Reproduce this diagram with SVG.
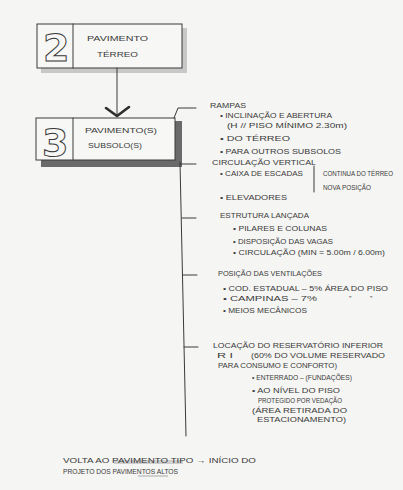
<svg xmlns="http://www.w3.org/2000/svg" width="403" height="490" viewBox="0 0 403 490">
<style>
.t{font-family:"Liberation Sans",Arial,sans-serif;font-size:7px;fill:#3a3a3a;}
.b{font-family:"Liberation Sans",Arial,sans-serif;font-size:7.5px;fill:#3a3a3a;}
.ln{stroke:#3a3a3a;stroke-width:1;fill:none;stroke-linecap:round;}
.box{fill:#f7f7f5;stroke:#3a3a3a;stroke-width:1;}
.num{font-family:"DejaVu Sans",sans-serif;font-weight:bold;font-size:38px;fill:#f7f7f5;stroke:#3a3a3a;stroke-width:1;}
</style>
<rect x="0" y="0" width="403" height="490" fill="#f5f5f3"/>

<g id="node-2">
<rect x="41" y="67" width="145" height="6" fill="#c8c8c8"/>
<rect x="182" y="28" width="5" height="45" fill="#c8c8c8"/>
<rect class="box" x="37" y="24" width="145" height="44"/>
<line class="ln" x1="73" y1="24" x2="73" y2="68"/>
<text class="num" x="43" y="61">2</text>
<text class="b" x="87" y="41" textLength="61" lengthAdjust="spacingAndGlyphs">PAVIMENTO</text>
<text class="b" x="97" y="57" textLength="41" lengthAdjust="spacingAndGlyphs">TÉRREO</text>
</g>

<g id="node-3">
<rect x="41" y="159" width="141" height="8" fill="#6a6a6a"/>
<rect x="175" y="121" width="7" height="46" fill="#6a6a6a"/>
<rect class="box" x="36" y="118" width="139" height="42"/>
<line class="ln" x1="73" y1="118" x2="73" y2="160"/>
<text class="num" x="42" y="156">3</text>
<text class="b" x="85" y="133" textLength="72" lengthAdjust="spacingAndGlyphs">PAVIMENTO(S)</text>
<text class="b" x="88" y="148" textLength="54" lengthAdjust="spacingAndGlyphs">SUBSOLO(S)</text>
</g>

<g id="connectors">
<line class="ln" x1="117" y1="68" x2="117" y2="116"/>
<polyline points="106,108 117,116 129,107" fill="none" stroke="#2e2e2e" stroke-width="2.6" stroke-linecap="round" stroke-linejoin="round"/>
<polyline class="ln" points="174,118 178,108 196,108"/>
<line class="ln" x1="180" y1="162" x2="186" y2="436"/>
<line class="ln" x1="180" y1="164" x2="196" y2="164"/>
<line class="ln" x1="182" y1="218" x2="196" y2="218"/>
<line class="ln" x1="183" y1="275" x2="197" y2="275"/>
<line class="ln" x1="184" y1="347" x2="198" y2="347"/>
<line class="ln" x1="314" y1="166" x2="314" y2="192"/>
</g>

<g id="notes">
<text class="t" x="210" y="108" textLength="36" lengthAdjust="spacingAndGlyphs">RAMPAS</text>
<text class="t" x="220" y="118" textLength="112" lengthAdjust="spacingAndGlyphs">• INCLINAÇÃO E ABERTURA</text>
<text class="t" x="227" y="128" textLength="120" lengthAdjust="spacingAndGlyphs">(H // PISO MÍNIMO 2.30m)</text>
<text class="t" x="220" y="141" textLength="70" lengthAdjust="spacingAndGlyphs">• DO TÉRREO</text>
<text class="t" x="220" y="154" textLength="121" lengthAdjust="spacingAndGlyphs">• PARA OUTROS SUBSOLOS</text>
<text class="t" x="212" y="165" textLength="104" lengthAdjust="spacingAndGlyphs">CIRCULAÇÃO VERTICAL</text>
<text class="t" x="220" y="176" textLength="83" lengthAdjust="spacingAndGlyphs">• CAIXA DE ESCADAS</text>
<text class="t" x="323" y="176" textLength="70" lengthAdjust="spacingAndGlyphs">CONTINUA DO TÉRREO</text>
<text class="t" x="323" y="190" textLength="48" lengthAdjust="spacingAndGlyphs">NOVA POSIÇÃO</text>
<text class="t" x="220" y="200" textLength="67" lengthAdjust="spacingAndGlyphs">• ELEVADORES</text>
<text class="t" x="220" y="218" textLength="89" lengthAdjust="spacingAndGlyphs">ESTRUTURA LANÇADA</text>
<text class="t" x="233" y="231" textLength="94" lengthAdjust="spacingAndGlyphs">• PILARES E COLUNAS</text>
<text class="t" x="233" y="244" textLength="100" lengthAdjust="spacingAndGlyphs">• DISPOSIÇÃO DAS VAGAS</text>
<text class="t" x="233" y="255" textLength="152" lengthAdjust="spacingAndGlyphs">• CIRCULAÇÃO (MIN = 5.00m / 6.00m)</text>
<text class="t" x="218" y="276" textLength="104" lengthAdjust="spacingAndGlyphs">POSIÇÃO DAS VENTILAÇÕES</text>
<text class="t" x="223" y="291" textLength="165" lengthAdjust="spacingAndGlyphs">• COD. ESTADUAL – 5% ÁREA DO PISO</text>
<text class="t" x="223" y="301" textLength="94" lengthAdjust="spacingAndGlyphs">• CAMPINAS  –  7%</text>
<text class="t" x="349" y="301">"</text>
<text class="t" x="370" y="301">"</text>
<text class="t" x="223" y="313" textLength="84" lengthAdjust="spacingAndGlyphs">• MEIOS MECÂNICOS</text>
<text class="t" x="213" y="348" textLength="170" lengthAdjust="spacingAndGlyphs">LOCAÇÃO DO RESERVATÓRIO INFERIOR</text>
<text class="t" x="217" y="358" textLength="16" lengthAdjust="spacingAndGlyphs">R I</text>
<text class="t" x="251" y="358" textLength="134" lengthAdjust="spacingAndGlyphs">(60% DO VOLUME RESERVADO</text>
<text class="t" x="218" y="368" textLength="119" lengthAdjust="spacingAndGlyphs">PARA CONSUMO E CONFORTO)</text>
<text class="t" x="252" y="380" textLength="100" lengthAdjust="spacingAndGlyphs">• ENTERRADO – (FUNDAÇÕES)</text>
<text class="t" x="252" y="393" textLength="88" lengthAdjust="spacingAndGlyphs">• AO NÍVEL DO PISO</text>
<text class="t" x="258" y="403" textLength="84" lengthAdjust="spacingAndGlyphs">PROTEGIDO POR VEDAÇÃO</text>
<text class="t" x="252" y="413" textLength="95" lengthAdjust="spacingAndGlyphs">(ÁREA RETIRADA DO</text>
<text class="t" x="257" y="422" textLength="89" lengthAdjust="spacingAndGlyphs">ESTACIONAMENTO)</text>
</g>

<g id="footer">
<rect x="114" y="460" width="69" height="4" fill="#cfcfcf"/>
<text class="t" x="63" y="463" textLength="193" lengthAdjust="spacingAndGlyphs">VOLTA AO PAVIMENTO TIPO → INÍCIO DO</text>
<text class="t" x="63" y="474" textLength="115" lengthAdjust="spacingAndGlyphs">PROJETO DOS  PAVIMENTOS ALTOS</text>
<line x1="138" y1="476" x2="168" y2="476" stroke="#cfcfcf" stroke-width="2"/>
</g>
</svg>
